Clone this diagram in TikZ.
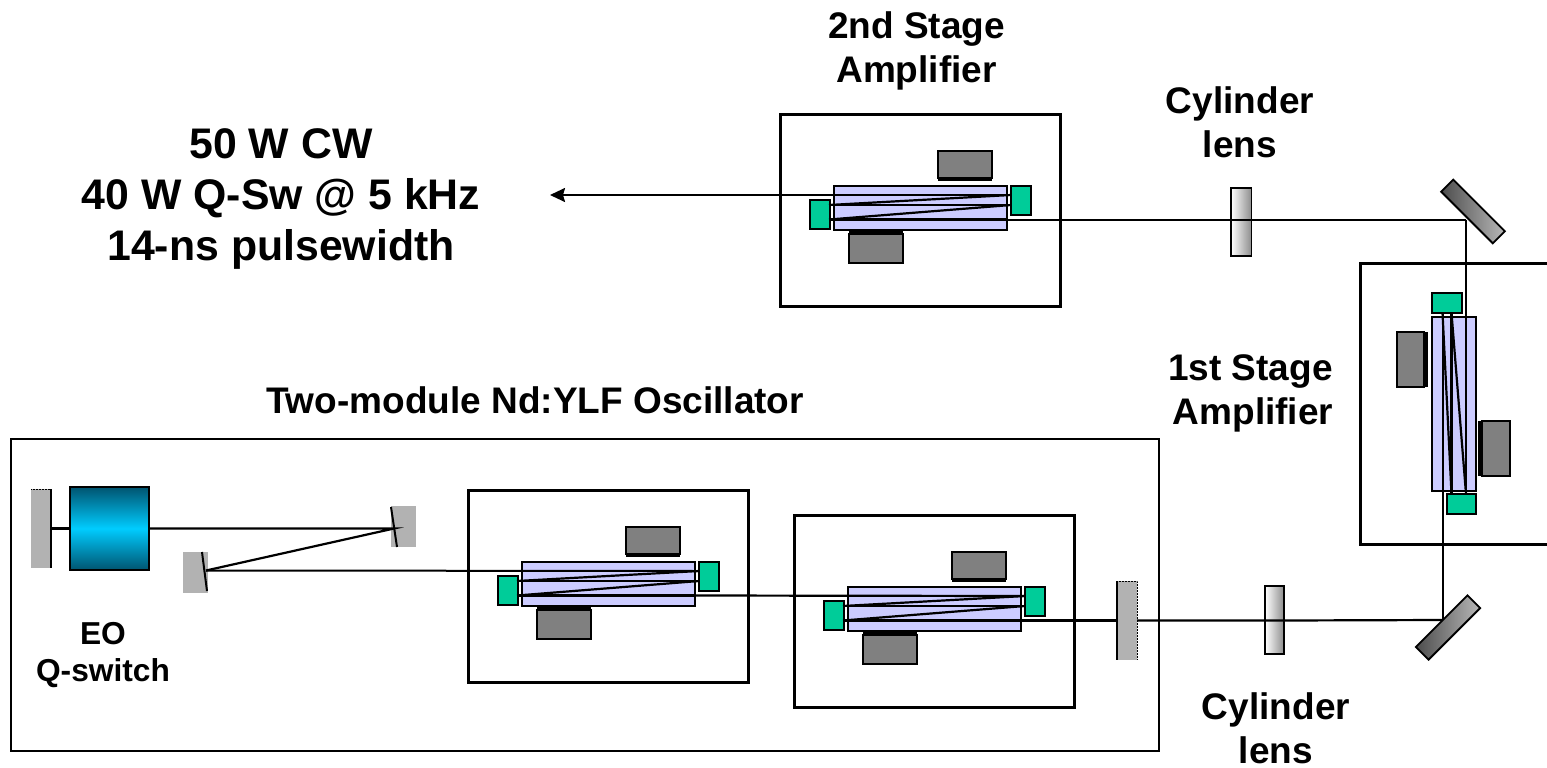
\documentclass[tikz,border=0pt]{standalone}
\usepackage{fontspec}
\setmainfont{Liberation Sans}
\usetikzlibrary{arrows.meta}
\newcommand{\boxn}[6]{%
  \pgfmathsetmacro{\bw}{abs(#5-#3)}\pgfmathsetmacro{\bh}{abs(#6-#4)}%
  \node[#1,minimum width=\bw pt,minimum height=\bh pt] (#2) at ({(#3+#5)/2},{(#4+#6)/2}) {};}
\tikzset{
  x=1pt,y=-1pt,
  blk/.style={inner sep=0pt,outer sep=0pt,draw=black,line width=1.8pt},
  frm/.style={blk,line width=3pt},
  crystal/.style={blk,fill=crystalblue},
  pump/.style={blk,fill=pumpgreen},
  diode/.style={blk,fill=diodegray},
  strip/.style={inner sep=0pt,outer sep=0pt,fill=black},
  mir/.style={inner sep=0pt,outer sep=0pt,fill=mirgray},
  beam/.style={line width=2.2pt,draw=black},
  thinbeam/.style={line width=2pt,draw=black},
  lens/.style={blk,left color=white,right color=black!45},
  turn/.style={blk,left color=black!70,right color=black!28,rotate=#1},
  lab/.style={inner sep=0pt,font=\bfseries\fontsize{37}{44}\selectfont,align=center},
}
\definecolor{crystalblue}{HTML}{CCCCFF}
\definecolor{pumpgreen}{HTML}{00CC99}
\definecolor{diodegray}{HTML}{808080}
\definecolor{mirgray}{HTML}{B2B2B2}
\definecolor{qsdark}{HTML}{005470}
\definecolor{qslight}{HTML}{00CCFF}
% module: name, dx, dy (coordinates of the 2nd-stage module as master)
\newcommand{\ampmod}[3]{%
 \begin{scope}[shift={(#2,#3)}]
  \boxn{frm}{#1-frame}{780}{114}{1060.5}{306}
  \boxn{crystal}{#1-crystal}{834}{186}{1007}{230}
  \boxn{pump}{#1-gr}{1011}{186}{1031}{215}
  \boxn{pump}{#1-gl}{810}{200}{830}{229}
  \boxn{strip}{#1-st}{938}{176}{992}{181}
  \boxn{diode}{#1-dt}{938}{151}{992}{178}
  \boxn{strip}{#1-sb}{849}{231}{903}{236}
  \boxn{diode}{#1-db}{849}{234}{903}{263}
  \coordinate (#1-r1) at (1011,195);
  \coordinate (#1-r2) at (1011,205);
  \coordinate (#1-l1) at (829,205);
  \coordinate (#1-l2) at (829,219.5);
  \coordinate (#1-r3) at (1007,219.5);
  \draw[beam] (#1-l1) -- (#1-r2);
  \draw[beam] (#1-l1) -- (#1-r1);
  \draw[beam] (#1-l2) -- (#1-r2);
  \draw[beam] (#1-l2) -- (#1-r3);
  \draw[thinbeam] (#1-r1) -- (#1-crystal.west |- #1-r1);
 \end{scope}}
\begin{document}
\begin{tikzpicture}
\useasboundingbox (0,0) rectangle (1547,768);
\boxn{blk,line width=2pt}{osc}{11}{439}{1159}{751}
% modules
\ampmod{a}{0}{0}
\ampmod{b}{-312}{376}
\ampmod{c}{14}{401}
% first-stage amplifier (vertical, runs off the right edge)
\coordinate (f1) at (1550,263);
\coordinate (f2) at (1360,263);
\coordinate (f3) at (1360,544);
\coordinate (f4) at (1550,544);
\draw[line width=3pt] (f1) -- (f2) -- (f3) -- (f4);
\boxn{crystal}{f-crystal}{1432}{317}{1476}{491}
\boxn{pump}{f-gt}{1432}{293}{1462}{313}
\boxn{pump}{f-gb}{1447}{494}{1476}{514}
\boxn{strip}{f-sl}{1422}{332}{1428}{387}
\boxn{diode}{f-dl}{1397}{332}{1424}{387}
\boxn{strip}{f-sr}{1478}{421}{1484}{476}
\boxn{diode}{f-dr}{1482}{421}{1510}{476}
% turning mirrors and lenses
\node[turn=-45,minimum width=73pt,minimum height=17pt] (m-up) at (1473,211.5) {};
\node[turn=45,minimum width=73pt,minimum height=18pt] (m-lo) at (1448,627.5) {};
\boxn{lens}{lens-up}{1231}{188}{1251.5}{256}
\boxn{lens}{lens-lo}{1265}{586}{1284}{654}
% oscillator optics
\boxn{mir}{m1}{31}{489}{51}{568}
\draw[line width=2pt] (m1.north east) -- (m1.south east);
\draw[densely dotted,line width=.5pt] (m1.north west) -- (m1.north east);
\boxn{blk,draw=black,top color=qsdark,bottom color=qsdark,middle color=qslight}{qs}{70}{487}{149}{570}
\boxn{mir}{m2}{391}{506}{416}{547}
\coordinate (m2a) at (391,507);
\coordinate (m2b) at (397,547);
\draw[line width=2pt] (m2a) -- (m2b);
\boxn{mir}{m3}{183}{552}{208}{593}
\coordinate (m3a) at (202,552);
\coordinate (m3b) at (207,591);
\draw[line width=2pt] (m3a) -- (m3b);
\boxn{mir}{oc}{1117}{581}{1137}{660}
\draw[line width=2pt] (oc.north west) -- (oc.south west);
\draw[densely dotted,line width=.5pt] (oc.north west) -- (oc.north east) -- (oc.south east);
% beam path
\coordinate (p2) at (394,527);
\coordinate (p3) at (206,570.5);
\coordinate (p-up) at (1466,219.5);
\coordinate (p-lo) at (1442.5,620);
\coordinate (out) at (550,195);
\draw[beam] (m1.east |- qs.west) -- (qs.west);
\draw[beam] (qs.east) -- (qs.east -| p2) -- (p3);
\draw[thinbeam] (p3) -- (b-r1);
\draw[beam] (b-r3) -- (c-r1);
\draw[beam] (c-r3) -- (oc.west |- c-r3);
\draw[beam] (oc.east |- c-r3) -- (lens-lo.west |- c-r3) -- (lens-lo.east |- c-r3) -- (p-lo);
\draw[thinbeam] (p-lo) -- (f-gt.south west -| p-lo);
\coordinate (fa) at (1451.5,313);
\coordinate (fb) at (1451.5,494);
\coordinate (fc) at (1466,494);
\draw[beam] (fa) -- (fb);
\draw[beam] (p-lo |- f-gt.south) -- (fb);
\draw[beam] (fa) -- (fc);
\draw[thinbeam] (fc) -- (p-up);
\draw[thinbeam] (p-up) -- (lens-up.east |- p-up) -- (lens-up.west |- p-up) -- (a-r3);
\draw[thinbeam,-{Stealth[length=15pt,width=14pt,inset=2pt]}] (a-crystal.west |- a-r1) -- (out);
% labels
\node[lab] (t1) at (916.5,51) {2nd Stage\\Amplifier};
\node[lab] (t2) at (1240,122) {Cylinder\\lens};
\node[lab,font=\bfseries\fontsize{42.8}{51}\selectfont] (t3) at (281,199) {50 W CW\\40 W Q-Sw @ 5 kHz\\14-ns pulsewidth};
\node[lab] (t4) at (535,400) {Two-module Nd:YLF Oscillator};
\node[lab] (t5) at (1250.5,393) {1st Stage\\\hspace*{5pt}Amplifier};
\node[lab,font=\bfseries\fontsize{31.7}{37}\selectfont] (t6) at (103,655) {EO\\Q-switch};
\node[lab] (t7) at (1276,728) {Cylinder\\lens};
\end{tikzpicture}
\end{document}
